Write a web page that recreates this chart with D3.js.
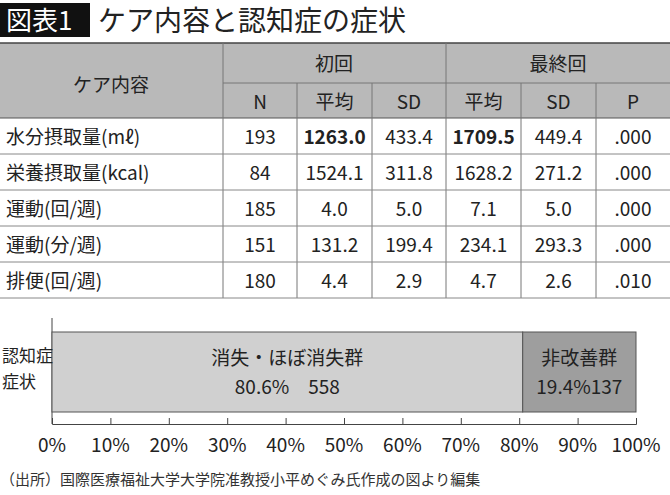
<!DOCTYPE html><html><head><meta charset="utf-8"><script src="https://cdn.jsdelivr.net/npm/d3@7"></script>
<style>body{margin:0;background:#fff}text{font-family:"Noto Sans CJK JP",sans-serif}</style></head><body><svg id="c" width="670" height="495"></svg><script>
const rowLabels=["水分摂取量(mℓ)","栄養摂取量(kcal)","運動(回/週)","運動(分/週)","排便(回/週)"];
const nVals=["193","84","185","151","180"];
const firstMean=["1263.0","1524.1","4.0","131.2","4.4"];
const firstSD=["433.4","311.8","5.0","199.4","2.9"];
const lastMean=["1709.5","1628.2","7.1","234.1","4.7"];
const lastSD=["449.4","271.2","5.0","293.3","2.6"];
const pVals=[".000",".000",".000",".000",".010"];
const boldCells=[[0,1],[0,3]];
const subHeaders=["N","平均","SD","平均","SD","P"];
const segNames=["消失・ほぼ消失群","非改善群"];
const segPct=[80.6,19.4];
const segN=[558,137];
const ticks=[0,10,20,30,40,50,60,70,80,90,100];
(function(){
const svg=d3.select("#c");
svg.append("rect").attr("x",0).attr("y",3).attr("width",90).attr("height",34).attr("fill","#111");
svg.append("text").attr("x",6).attr("y",30).attr("font-size",26).attr("fill","#fff").text("図表1");
svg.append("text").attr("x",98).attr("y",31).attr("font-size",28).attr("fill","#222").text("ケア内容と認知症の症状");
const colX=[0,223,297,372,446,521,596,670];
const tTop=43,mid=83,hb=118,rh=36;
const g=svg.append("g");
g.append("rect").attr("x",0).attr("y",tTop).attr("width",670).attr("height",hb-tTop).attr("fill","#b9b9b9");
const line=(x1,y1,x2,y2,c="#666",w=1)=>g.append("line").attr("x1",x1).attr("y1",y1).attr("x2",x2).attr("y2",y2).attr("stroke",c).attr("stroke-width",w);
line(0,tTop,670,tTop,"#444",1.5);
line(223,mid,670,mid,"#777");
line(0,hb,670,hb,"#555");
[223,446].forEach(x=>line(x,tTop,x,hb+5*rh,"#777"));
[297,372,521,596].forEach(x=>line(x,mid,x,hb+5*rh,"#777"));
for(let i=1;i<=5;i++)line(0,hb+i*rh,670,hb+i*rh,"#888");
const t=(x,y,s,opt={})=>g.append("text").attr("x",x).attr("y",y).attr("font-size",opt.fs||19).attr("text-anchor",opt.a||"middle").attr("font-weight",opt.b?"bold":"normal").attr("fill","#222").text(s);
t(111,92,"ケア内容");
t(334,71,"初回");t(558,71,"最終回");
subHeaders.forEach((s,i)=>t((colX[i+1]+colX[i+2])/2,109,s));
const cols=[nVals,firstMean,firstSD,lastMean,lastSD,pVals];
rowLabels.forEach((r,i)=>{
  const y=hb+i*rh+26;
  t(6,y,r,{a:"start"});
  cols.forEach((c,j)=>{
    const b=boldCells.some(([ri,ci])=>ri===i&&ci===j);
    t((colX[j+1]+colX[j+2])/2,y,c[i],{b});
  });
});
const x=d3.scaleLinear().domain([0,100]).range([52,636]);
svg.append("line").attr("x1",52).attr("x2",52).attr("y1",318).attr("y2",424).attr("stroke","#444");
const by=332,bh=80;
let acc=0;
const fills=["#d0d0d0","#9e9e9e"];
segPct.forEach((p,i)=>{
  svg.append("rect").attr("x",x(acc)).attr("y",by).attr("width",x(acc+p)-x(acc)).attr("height",bh).attr("fill",fills[i]).attr("stroke","#555");
  const cx=x(acc+p/2);
  svg.append("text").attr("x",cx).attr("y",by+33).attr("text-anchor","middle").attr("font-size",19).attr("fill","#222").text(segNames[i]);
  svg.append("text").attr("x",cx).attr("y",by+62).attr("text-anchor","middle").attr("font-size",19).attr("fill","#222").text(i===0?`${p}%\u3000${segN[i]}`:`${p}%${segN[i]}`);
  acc+=p;
});
svg.append("text").attr("x",2).attr("y",362).attr("font-size",17).attr("fill","#222").text("認知症");
svg.append("text").attr("x",2).attr("y",388).attr("font-size",17).attr("fill","#222").text("症状");
const ax=svg.append("g").attr("transform","translate(0,424)").call(d3.axisTop(x).tickValues(ticks).tickSize(6).tickFormat(""));
ax.selectAll("path,line").attr("stroke","#444");
ticks.forEach(v=>svg.append("text").attr("x",x(v)).attr("y",452).attr("text-anchor","middle").attr("font-size",19).attr("fill","#222").text(v+"%"));
svg.append("text").attr("x",0).attr("y",485).attr("font-size",15).attr("fill","#333").text("（出所）国際医療福祉大学大学院准教授小平めぐみ氏作成の図より編集");
})();
</script></body></html>
